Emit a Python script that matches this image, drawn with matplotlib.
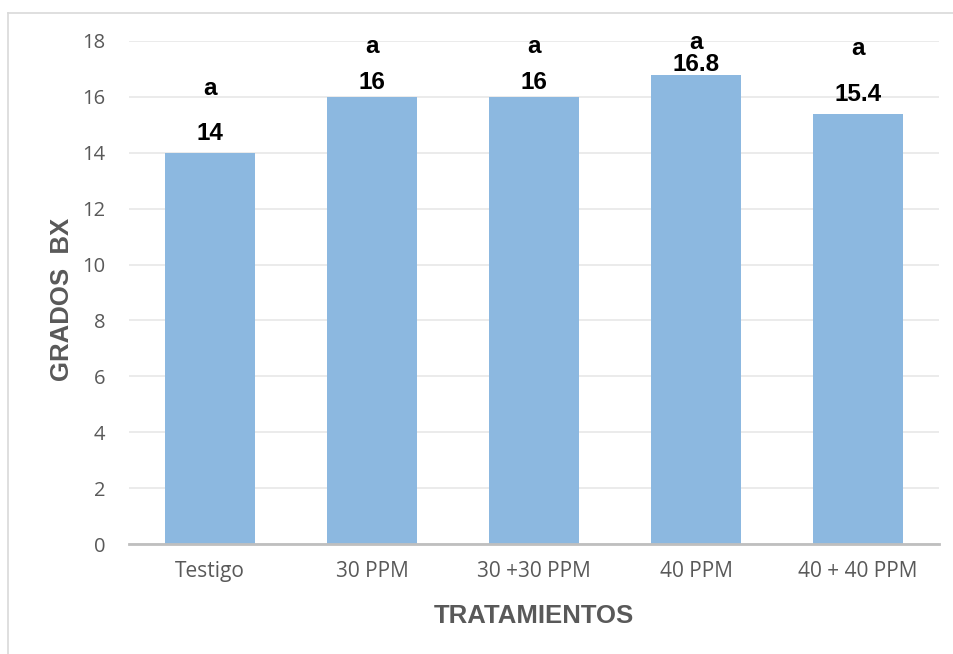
import matplotlib.pyplot as plt
from matplotlib.lines import Line2D

tratamientos = ["Testigo", "30 PPM", "30 +30 PPM", "40 PPM", "40 + 40 PPM"]
grados_bx = [14, 16, 16, 16.8, 15.4]
letras = ["a", "a", "a", "a", "a"]
# baseline of the significance letters on the y scale
letra_y = [16.07, 17.57, 17.57, 17.71, 17.50]
# gap between bar top and its value label baseline, in points
valor_gap = [9.4, 5.8, 5.8, 2.2, 9.4]

W, H = 954, 654
fig = plt.figure(figsize=(W / 100, H / 100), dpi=100)
ax = fig.add_axes([129 / W, 110 / H, 810 / W, 503 / H])

x = range(len(tratamientos))
ax.bar(x, grados_bx, width=0.556, color="#8CB8E0", zorder=2)

ax.set_ylim(0, 18)
ax.set_xlim(-0.5, len(tratamientos) - 0.5)
ax.set_yticks(range(0, 19, 2))
ax.yaxis.grid(True, color="#E7E7E7", linewidth=1.2, zorder=0)
ax.set_axisbelow(True)

for s in ["top", "right", "left"]:
    ax.spines[s].set_visible(False)
ax.spines["bottom"].set_color("#BFBFBF")
ax.spines["bottom"].set_linewidth(2)
ax.spines["bottom"].set_zorder(3)

ax.tick_params(axis="both", length=0, labelcolor="#595959")
ax.tick_params(axis="y", pad=17, labelsize=14.5)
ax.tick_params(axis="x", pad=12, labelsize=15)
ax.set_xticks(list(x))
ax.set_xticklabels(tratamientos, fontfamily="Open Sans")
for lab in ax.get_yticklabels():
    lab.set_fontfamily("Open Sans")

for i, v in enumerate(grados_bx):
    ax.annotate(f"{v:g}", (i, v), xytext=(0, valor_gap[i]), textcoords="offset points",
                ha="center", va="baseline", fontsize=17.5, fontweight="bold",
                fontfamily="Liberation Sans", color="black")
    ax.text(i, letra_y[i], letras[i], ha="center", va="baseline", fontsize=17.5,
            fontweight="bold", fontfamily="Liberation Sans", color="black", clip_on=False)

fig.text(534 / W, 1 - 623 / H, "TRATAMIENTOS", ha="center", va="baseline", fontsize=18.5,
         fontweight="bold", fontfamily="Liberation Sans", color="#595959")
fig.text(69 / W, 1 - 299 / H, "GRADOS  BX", ha="center", va="baseline", rotation=90,
         rotation_mode="anchor", fontsize=18.5, fontweight="bold",
         fontfamily="Liberation Sans", color="#595959")

# chart area outline along the left and top edges
fig.add_artist(Line2D([8 / W, 8 / W], [0, 1 - 13 / H], transform=fig.transFigure,
                      color="#D9D9D9", linewidth=1.2))
fig.add_artist(Line2D([8 / W, 1], [1 - 13 / H, 1 - 13 / H], transform=fig.transFigure,
                      color="#D9D9D9", linewidth=1.2))

fig.savefig("out.png", dpi=100, facecolor="white")
